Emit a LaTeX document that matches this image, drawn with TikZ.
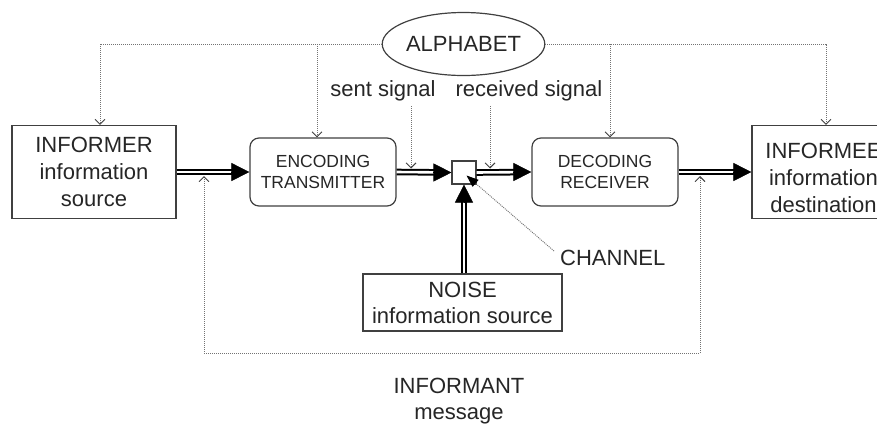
\documentclass[tikz,border=0pt]{standalone}
\usepackage{fontspec}
\setmainfont{Liberation Sans}
\usetikzlibrary{arrows.meta,shapes.geometric}
\begin{document}
\begin{tikzpicture}[x=1pt,y=-1pt,
  txt/.style={text=black!85, inner sep=0pt},
  bigfont/.style={font=\fontsize{22}{27}\selectfont},
  sqbox/.style={draw=black!75, line width=1.2pt, inner sep=0pt, align=center, text=black!85, bigfont},
  rbox/.style={draw=black!75, line width=1.2pt, rounded corners=9pt, inner sep=0pt, align=center, text=black!85, font=\fontsize{17.5}{21}\selectfont},
  dbl/.style={draw=black, double=white, double distance=2.6pt, line width=2pt},
  bigtip/.style={draw=black, line width=0.6pt, {Triangle[length=18pt,width=18pt]}-},
  dotline/.style={draw=black!55, line width=0.9pt, dash pattern=on 1pt off 1pt},
  dotarr/.style={dotline, -{Straight Barb[length=5pt,width=10pt,color=black!75]}},
  dotarrs/.style={dotline, {Straight Barb[length=5pt,width=10pt,color=black!75]}-{Straight Barb[length=5pt,width=10pt,color=black!75]}}
]
\path[use as bounding box, clip] (0,0) rectangle (877,424);
\fill[white] (0,0) rectangle (877,424);

% nodes
\node[ellipse, draw=black!75, line width=1.2pt, minimum width=151pt, minimum height=63pt, inner sep=0pt, txt, bigfont] (alpha) at (463.5,44) {ALPHABET};
\node[sqbox, minimum width=164pt, minimum height=93pt] (inf) at (94,172) {INFORMER\\information\\source};
\node[rbox, minimum width=146pt, minimum height=68pt] (enc) at (323,172) {ENCODING\\TRANSMITTER};
\node[rbox, minimum width=146pt, minimum height=68pt] (dec) at (605,172) {DECODING\\RECEIVER};
\node[draw=black!75, line width=1.2pt, minimum width=143pt, minimum height=93pt, inner sep=0pt] (infee) at (823.5,172) {};
\node[txt, align=center, bigfont] (infeet) at (823.5,177.5) {INFORMEE\\information\\destination};
\node[draw=black!75, line width=1.1pt, minimum width=24pt, minimum height=23pt, inner sep=0pt] (chan) at (464,172.5) {};
\node[sqbox, font=\fontsize{22}{26}\selectfont, minimum width=199pt, minimum height=57pt] (noise) at (462.5,302.5) {NOISE\\information source};

\node[txt, bigfont, anchor=base] (sent) at (383,96) {sent signal};
\node[txt, bigfont, anchor=base] (recv) at (529,96) {received signal};
\node[txt, bigfont, anchor=base west] (chl) at (560,265) {CHANNEL};
\node[txt, align=center, font=\fontsize{22}{26}\selectfont] (infant) at (459,401.5) {INFORMANT\\message};

% double arrows
\draw[dbl, shorten >=16pt] (inf.east) -- (enc.west);
\draw[bigtip] (enc.west) -- ++(-18.5,0);
\draw[dbl, shorten >=16pt] (enc.east) -- (chan.west);
\draw[bigtip] (chan.west) -- ++(-18.5,0);
\draw[dbl, shorten >=16pt] (chan.east) -- (dec.west);
\draw[bigtip] (dec.west) -- ++(-18.5,0);
\draw[dbl, shorten >=16pt] (dec.east) -- (infee.west);
\draw[bigtip] (infee.west) -- ++(-18.5,0);
\draw[dbl, shorten >=16pt] (noise.north -| chan.south) -- (chan.south);
\draw[bigtip] (chan.south) -- ++(0,18.5);

% alphabet dotted arrows
\coordinate (tl) at (100,44);
\coordinate (tr) at (826,44);
\coordinate (te) at (317,44);
\coordinate (td) at (610,44);
\draw[dotarr] (alpha.west) -| (tl |- inf.north);
\draw[dotarr] (alpha.east) -| (tr |- infee.north);
\draw[dotarr] (te) -- (te |- enc.north);
\draw[dotarr] (td) -- (td |- dec.north);

% signal arrows
\coordinate (ss) at (411,106);
\coordinate (rs) at (490,106);
\draw[dotarr] (ss) -- ++(0,62.5);
\draw[dotarr] (rs) -- ++(0,62.5);

% informant loop
\coordinate (l1) at (204,176);
\coordinate (l2) at (700,176);
\coordinate (lb) at (204,353);
\draw[dotarrs] (l1) -- (lb) -| (l2);

% channel leader
\coordinate (ct) at (466.5,175.5);
\coordinate (cs) at (554,251);
\draw[dotline, -{Triangle[length=12pt,width=9pt,color=black]}] (cs) -- (ct);
\end{tikzpicture}
\end{document}
